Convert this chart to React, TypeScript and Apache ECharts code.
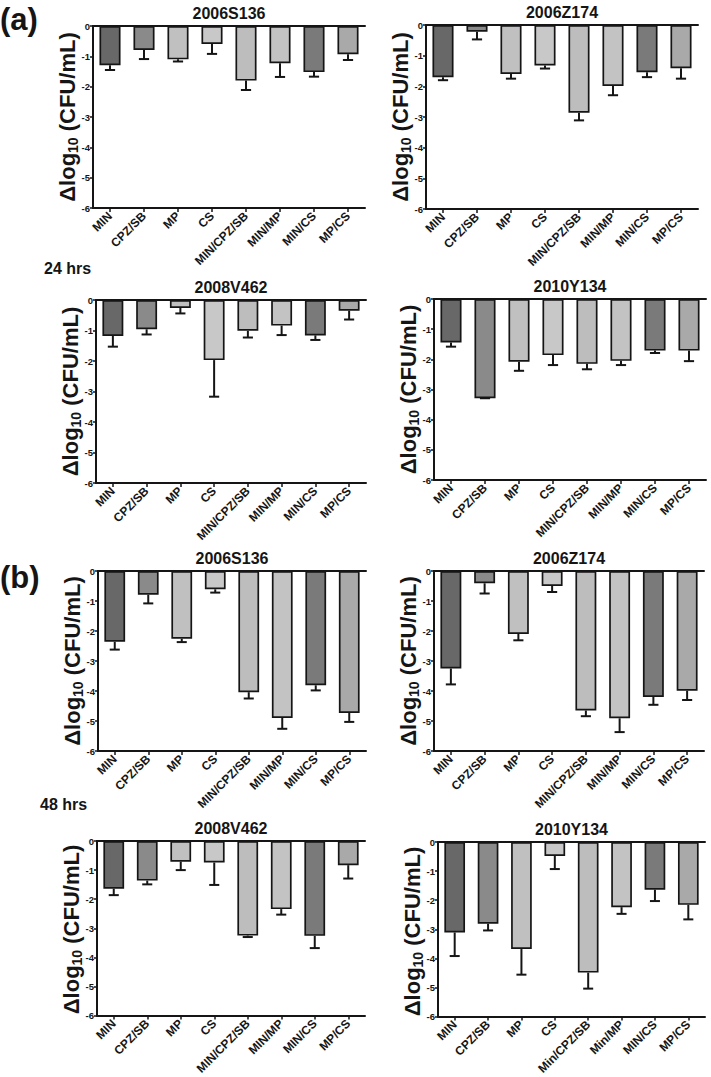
import React, { useEffect, useRef } from "react";
import * as echarts from "echarts";

const categories = ["MIN", "CPZ/SB", "MP", "CS", "MIN/CPZ/SB", "MIN/MP", "MIN/CS", "MP/CS"];
const categoriesB2010 = ["MIN", "CPZ/SB", "MP", "CS", "Min/CPZ/SB", "Min/MP", "MIN/CS", "MP/CS"];
const yTicks = [0, -1, -2, -3, -4, -5, -6];

// (a) 24 hrs
const a2006S136Mean = [-1.29, -0.79, -1.1, -0.59, -1.8, -1.23, -1.52, -0.93];
const a2006S136Err = [-1.45, -1.09, -1.17, -0.92, -2.11, -1.68, -1.67, -1.12];
const a2006Z174Mean = [-1.7, -0.22, -1.6, -1.32, -2.86, -1.99, -1.54, -1.41];
const a2006Z174Err = [-1.8, -0.47, -1.75, -1.42, -3.11, -2.29, -1.7, -1.75];
const a2008V462Mean = [-1.18, -0.96, -0.26, -1.97, -1.01, -0.84, -1.16, -0.35];
const a2008V462Err = [-1.53, -1.13, -0.44, -3.17, -1.23, -1.15, -1.31, -0.64];
const a2010Y134Mean = [-1.44, -3.29, -2.08, -1.86, -2.15, -2.05, -1.71, -1.71];
const a2010Y134Err = [-1.58, -3.29, -2.38, -2.19, -2.33, -2.19, -1.79, -2.06];

// (b) 48 hrs
const b2006S136Mean = [-2.36, -0.79, -2.26, -0.61, -4.04, -4.9, -3.81, -4.73];
const b2006S136Err = [-2.62, -1.08, -2.37, -0.72, -4.25, -5.26, -3.98, -5.03];
const b2006Z174Mean = [-3.25, -0.41, -2.1, -0.5, -4.65, -4.91, -4.2, -3.99];
const b2006Z174Err = [-3.78, -0.75, -2.31, -0.7, -4.84, -5.37, -4.46, -4.3];
const b2008V462Mean = [-1.64, -1.36, -0.71, -0.74, -3.25, -2.34, -3.26, -0.83];
const b2008V462Err = [-1.86, -1.49, -1.0, -1.51, -3.3, -2.53, -3.68, -1.29];
const b2010Y134Mean = [-3.11, -2.81, -3.68, -0.48, -4.49, -2.24, -1.64, -2.16];
const b2010Y134Err = [-3.92, -3.04, -4.56, -0.93, -5.04, -2.47, -2.03, -2.66];

const barColors = ["#686868", "#8a8a8a", "#c0c0c0", "#c8c8c8", "#bdbdbd", "#c3c3c3", "#7a7a7a", "#a9a9a9"];

const FONT = "'Liberation Sans', Arial, sans-serif";
const INK = "#151515";

type Panel = {
  title: string;
  cats: string[];
  mean: number[];
  err: number[];
  box: [number, number, number, number];
};

const panels: Panel[] = [
  { title: "2006S136", cats: categories, mean: a2006S136Mean, err: a2006S136Err, box: [93, 26, 272, 182] },
  { title: "2006Z174", cats: categories, mean: a2006Z174Mean, err: a2006Z174Err, box: [426, 25, 272, 184] },
  { title: "2008V462", cats: categories, mean: a2008V462Mean, err: a2008V462Err, box: [96, 300, 270, 183] },
  { title: "2010Y134", cats: categories, mean: a2010Y134Mean, err: a2010Y134Err, box: [434, 299, 272, 181] },
  { title: "2006S136", cats: categories, mean: b2006S136Mean, err: b2006S136Err, box: [98, 571, 268, 180] },
  { title: "2006Z174", cats: categories, mean: b2006Z174Mean, err: b2006Z174Err, box: [434, 571, 270, 180] },
  { title: "2008V462", cats: categories, mean: b2008V462Mean, err: b2008V462Err, box: [97, 841, 268, 177] },
  { title: "2010Y134", cats: categoriesB2010, mean: b2010Y134Mean, err: b2010Y134Err, box: [438, 842, 267, 179] },
];

function buildOption() {
  const grid: any[] = [];
  const xAxis: any[] = [];
  const yAxis: any[] = [];
  const series: any[] = [];
  const graphic: any[] = [];

  panels.forEach((p, i) => {
    const [left, top, width, height] = p.box;
    grid.push({ left, top, width, height, containLabel: false });
    xAxis.push({
      type: "category",
      gridIndex: i,
      data: p.cats,
      position: "bottom",
      axisLine: { show: true, onZero: false, lineStyle: { color: INK, width: 2 } },
      axisTick: { show: true, alignWithLabel: true, length: 4, lineStyle: { color: INK, width: 1.5 } },
      axisLabel: {
        rotate: 45,
        interval: 0,
        margin: 6,
        color: INK,
        fontSize: 12,
        fontWeight: "bold",
        fontFamily: FONT,
      },
    });
    xAxis.push({
      type: "category",
      gridIndex: i,
      data: p.cats,
      position: "top",
      axisLine: { show: true, onZero: false, lineStyle: { color: INK, width: 2 } },
      axisTick: { show: false },
      axisLabel: { show: false },
    });
    yAxis.push({
      type: "value",
      gridIndex: i,
      min: yTicks[yTicks.length - 1],
      max: yTicks[0],
      interval: 1,
      axisLine: { show: true, lineStyle: { color: INK, width: 2 } },
      axisTick: { show: true, length: 3, lineStyle: { color: INK, width: 1.5 } },
      axisLabel: { color: INK, fontSize: 9.5, fontWeight: "bold", fontFamily: FONT, margin: 3 },
      splitLine: { show: false },
    });

    series.push({
      type: "bar",
      xAxisIndex: i * 2,
      yAxisIndex: i,
      barWidth: "62%",
      data: p.mean.map((v, k) => ({
        value: v,
        itemStyle: { color: barColors[k], borderColor: INK, borderWidth: 1.7 },
      })),
      z: 2,
    });
    series.push({
      type: "custom",
      xAxisIndex: i * 2,
      yAxisIndex: i,
      z: 3,
      data: p.mean.map((v, k) => [k, v, p.err[k]]),
      renderItem: (params: any, api: any) => {
        const xi = api.value(0);
        const m = api.value(1);
        const e = api.value(2);
        const p0 = api.coord([xi, m]);
        const p1 = api.coord([xi, e]);
        const half = api.size([1, 0])[0] * 0.15;
        const st = { stroke: INK, lineWidth: 2 };
        return {
          type: "group",
          children: [
            { type: "line", shape: { x1: p0[0], y1: p0[1], x2: p1[0], y2: p1[1] }, style: st },
            { type: "line", shape: { x1: p1[0] - half, y1: p1[1], x2: p1[0] + half, y2: p1[1] }, style: st },
          ],
        };
      },
    });

    graphic.push({
      type: "text",
      x: left + width / 2,
      y: top - 13,
      style: {
        text: p.title,
        fill: INK,
        font: `bold 16px ${FONT}`,
        textAlign: "center",
        textVerticalAlign: "middle",
      },
    });
    graphic.push({
      type: "text",
      x: left - 26,
      y: top + height / 2,
      rotation: Math.PI / 2,
      style: {
        text: "{a|Δlog}{s|10}{a| (CFU/mL)}",
        fill: INK,
        textAlign: "center",
        textVerticalAlign: "middle",
        rich: {
          a: { fontSize: 22, fontWeight: "bold", fontFamily: FONT, fill: INK, lineHeight: 25 },
          s: { fontSize: 14, fontWeight: "bold", fontFamily: FONT, fill: INK, lineHeight: 15, verticalAlign: "bottom" },
        },
      },
    });
  });

  graphic.push(
    { type: "text", x: 0, y: 4, style: { text: "(a)", fill: INK, font: `bold 31px ${FONT}` } },
    { type: "text", x: 0, y: 562, style: { text: "(b)", fill: INK, font: `bold 31px ${FONT}` } },
    { type: "text", x: 44, y: 268, style: { text: "24 hrs", fill: INK, font: `bold 16px ${FONT}`, textVerticalAlign: "middle" } },
    { type: "text", x: 40, y: 804, style: { text: "48 hrs", fill: INK, font: `bold 16px ${FONT}`, textVerticalAlign: "middle" } }
  );

  return {
    animation: false,
    backgroundColor: "#ffffff",
    grid,
    xAxis,
    yAxis,
    series,
    graphic,
  };
}

export default function App() {
  const ref = useRef<HTMLDivElement>(null);
  useEffect(() => {
    if (!ref.current) return;
    const chart = echarts.init(ref.current, null, { renderer: "svg" });
    chart.setOption(buildOption() as any);
    return () => chart.dispose();
  }, []);
  return (
    <div
      ref={ref}
      style={{ position: "absolute", left: 0, top: 0, width: 711, height: 1077, background: "#fff" }}
    />
  );
}
